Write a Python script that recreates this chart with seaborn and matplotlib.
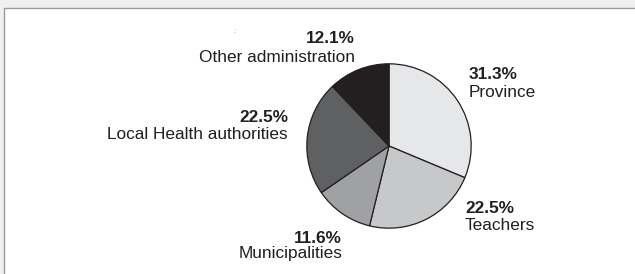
import matplotlib
matplotlib.use("Agg")
import matplotlib.pyplot as plt
from matplotlib.patches import Rectangle
import seaborn as sns

# Data
categories = ["Province", "Teachers", "Municipalities",
              "Local Health authorities", "Other administration"]
shares = [31.3, 22.5, 11.6, 22.5, 12.1]
pct_labels = ["31.3%", "22.5%", "11.6%", "22.5%", "12.1%"]

# Label placement (pixels from the top-left): x anchor, pct baseline, name baseline, alignment
label_pos = [
    (469, 79, 97, "left"),
    (465, 213, 230, "left"),
    (342, 243, 258, "right"),
    (288, 122, 139, "right"),
    (355, 43, 62, "right"),
]

sns.set_theme(style="white")
plt.rcParams['font.family'] = ['Liberation Sans', 'DejaVu Sans']

W, H = 635, 274
fig = plt.figure(figsize=(W / 100, H / 100), dpi=100, facecolor="#f0f0f0")

# white panel with a thin grey frame on top/left
fig.patches.append(Rectangle((4 / W, -1), 2, 2 - 8 / H, transform=fig.transFigure,
                             facecolor="white", edgecolor="#9a9a9a", lw=1.0, zorder=-5))

cx, cy, r = 389, 146, 83
ax = fig.add_axes([(cx - r) / W, (H - cy - r) / H, 2 * r / W, 2 * r / H])
ax.set_zorder(2)
ax.patch.set_alpha(0)
colors = sns.color_palette(["#e6e7e8", "#c7c8ca", "#a0a1a3", "#5f6062", "#231f20"])
ax.pie(shares, colors=colors, startangle=90, counterclock=False, radius=1,
       wedgeprops=dict(edgecolor="#231f20", linewidth=0.9))
ax.set_xlim(-1.01, 1.01)
ax.set_ylim(-1.01, 1.01)
ax.set_axis_off()

fs = 12.4
txt = "#231f20"
for (x, yp, yn, ha), pct, name in zip(label_pos, pct_labels, categories):
    fig.text(x / W, 1 - yp / H, pct, ha=ha, va="baseline", fontsize=fs,
             fontweight="bold", color=txt)
    fig.text(x / W, 1 - yn / H, name, ha=ha, va="baseline", fontsize=fs, color=txt)

fig.text(234 / W, 1 - 33 / H, ":", ha="center", va="baseline", fontsize=6, color="#999999")

fig.savefig("out.png", dpi=100, facecolor=fig.get_facecolor())
